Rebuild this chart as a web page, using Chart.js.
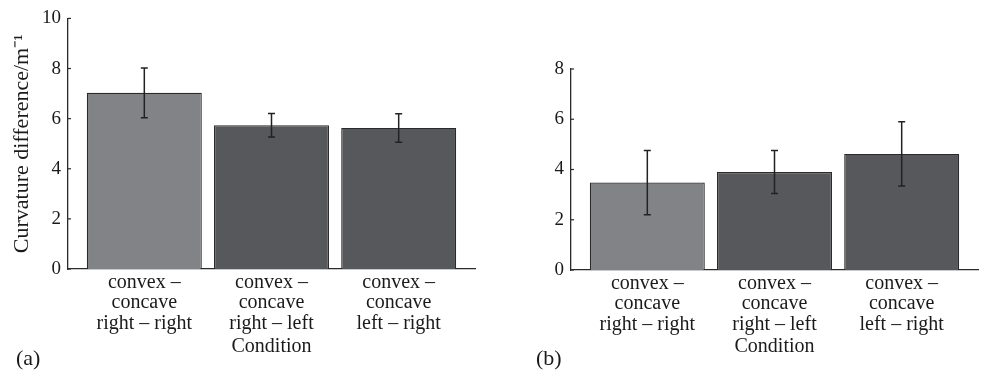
<!DOCTYPE html>
<html>
<head>
<meta charset="utf-8">
<script src="https://cdn.jsdelivr.net/npm/chart.js@4.4.0/dist/chart.umd.min.js"></script>
<style>
  body { margin: 0; background: #fff; }
  .wrap { position: relative; width: 982px; height: 374px; }
  canvas { position: absolute; top: 0; }
  #chartA { left: 0; }
  #chartB { left: 491px; }
  .tag { position: absolute; top: 345px; font: 22px 'Liberation Serif', serif; color: #1a1a1a; }
</style>
</head>
<body>
<div class="wrap">
  <canvas id="chartA" width="491" height="374"></canvas>
  <canvas id="chartB" width="491" height="374"></canvas>
  <span class="tag" style="left:16px">(a)</span>
  <span class="tag" style="left:536px">(b)</span>
</div>
<script>
const categories = [
  ['convex –', 'concave', 'right – right'],
  ['convex –', 'concave', 'right – left'],
  ['convex –', 'concave', 'left – right']
];
const meansA = [7.03, 5.74, 5.63];
const errorsA = [0.99, 0.47, 0.57];
const meansB = [3.48, 3.90, 4.62];
const errorsB = [1.28, 0.86, 1.28];
const yTicksA = [0, 2, 4, 6, 8, 10];
const yTicksB = [0, 2, 4, 6, 8];

const textColor = '#1a1a1a';
const axisColor = '#2a2a2a';
const barColors = ['#828387', '#57585b', '#57585b'];
const serif = 'Liberation Serif';

// error bars + small inward ticks on the y axis
const errorBars = {
  id: 'errorBars',
  afterDatasetsDraw(chart) {
    const { ctx, scales: { y }, chartArea } = chart;
    const ds = chart.data.datasets[0];
    const meta = chart.getDatasetMeta(0);
    ctx.save();
    ctx.strokeStyle = '#222';
    ctx.lineWidth = 1.5;
    meta.data.forEach((bar, i) => {
      const v = ds.data[i].y;
      const e = ds.errors[i];
      const top = y.getPixelForValue(v + e);
      const bot = y.getPixelForValue(v - e);
      ctx.beginPath();
      ctx.moveTo(bar.x, top); ctx.lineTo(bar.x, bot);
      ctx.moveTo(bar.x - 3.5, top); ctx.lineTo(bar.x + 3.5, top);
      ctx.moveTo(bar.x - 3.5, bot); ctx.lineTo(bar.x + 3.5, bot);
      ctx.stroke();
    });
    ctx.strokeStyle = axisColor;
    ctx.lineWidth = 1.2;
    y.ticks.forEach(t => {
      const py = y.getPixelForValue(t.value);
      ctx.beginPath();
      ctx.moveTo(chartArea.left, py);
      ctx.lineTo(chartArea.left + 3, py);
      ctx.stroke();
    });
    ctx.restore();
  }
};

function makeChart(id, means, errors, yTicks, axisWidth, padTop, padRight, areaBottom, yTitle) {
  return new Chart(document.getElementById(id).getContext('2d'), {
    type: 'bar',
    data: {
      datasets: [{
        data: means.map((v, i) => ({ x: i + 1, y: v })),
        errors: errors,
        backgroundColor: barColors,
        borderColor: axisColor,
        borderWidth: 1.2,
        categoryPercentage: 1,
        barPercentage: 0.904
      }]
    },
    options: {
      responsive: false,
      animation: false,
      layout: { padding: { top: padTop, right: padRight, left: 0, bottom: 0 } },
      plugins: { legend: { display: false }, tooltip: { enabled: false } },
      scales: {
        x: {
          type: 'linear',
          offset: false,
          min: 0.4,
          max: 3.6,
          afterBuildTicks: s => { s.ticks = categories.map((c, i) => ({ value: i + 1 })); },
          afterFit: s => { s.height = 374 - areaBottom; },
          grid: { display: false, drawTicks: false, offset: false },
          border: { display: true, color: axisColor, width: 1.3 },
          ticks: {
            autoSkip: false,
            maxRotation: 0,
            padding: 3,
            color: textColor,
            font: { family: serif, size: 20, lineHeight: 1.03 },
            callback: v => categories[Math.round(v) - 1]
          },
          title: {
            display: true,
            text: 'Condition',
            color: textColor,
            font: { family: serif, size: 20 },
            padding: { top: 0, bottom: 15 }
          }
        },
        y: {
          min: 0,
          max: yTicks[yTicks.length - 1],
          afterBuildTicks: s => { s.ticks = yTicks.map(v => ({ value: v })); },
          afterFit: s => { s.width = axisWidth; },
          grid: { display: false, drawTicks: false },
          border: { display: true, color: axisColor, width: 1.3 },
          ticks: { padding: 7, color: textColor, font: { family: serif, size: 19 } },
          title: {
            display: !!yTitle,
            text: yTitle,
            color: textColor,
            font: { family: serif, size: 22 },
            padding: { top: 9, bottom: 0 }
          }
        }
      }
    },
    plugins: [errorBars]
  });
}

const chartA = makeChart('chartA', meansA, errorsA, yTicksA, 68, 18, 16, 269, 'Curvature difference/m⁻¹');
const chartB = makeChart('chartB', meansB, errorsB, yTicksB, 80, 69, 4, 270, '');
</script>
</body>
</html>
